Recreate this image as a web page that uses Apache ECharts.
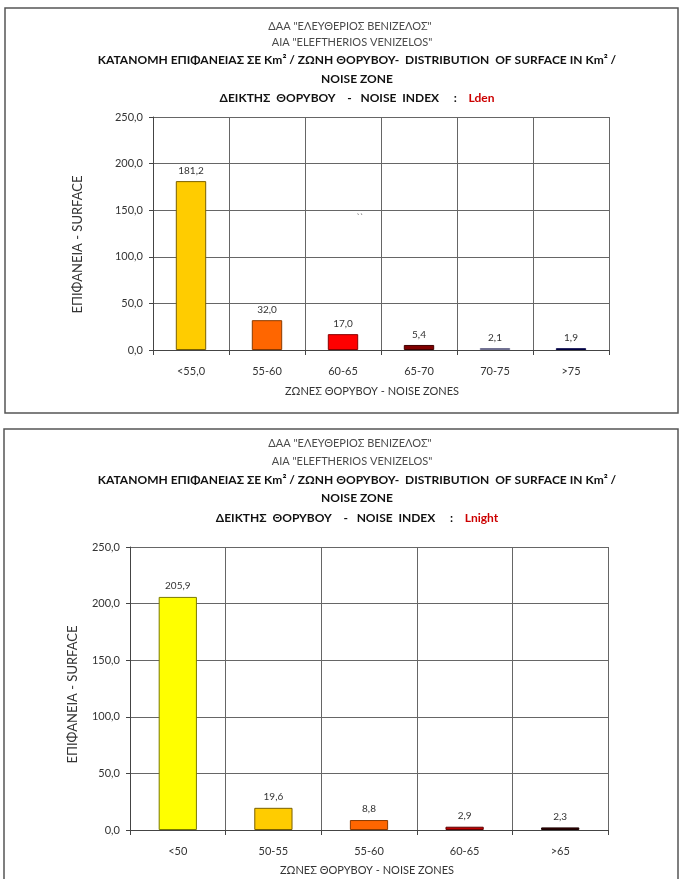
<!DOCTYPE html>
<html>
<head>
<meta charset="utf-8">
<script src="https://cdn.jsdelivr.net/npm/echarts@6/dist/echarts.min.js"></script>
<style>
  html, body { margin: 0; padding: 0; background: #fff; }
  #chart { width: 679px; height: 879px; }
</style>
</head>
<body>
<div id="chart"></div>
<script>
// Surface (km²) per noise zone around Athens International Airport
const ldenZones = ['<55,0', '55-60', '60-65', '65-70', '70-75', '>75'];
const ldenSurface = [181.2, 32.0, 17.0, 5.4, 2.1, 1.9];
const ldenColors = ['#FFCC00', '#FF6600', '#FF0000', '#800000', '#A49ED6', '#000080'];
const ldenEdges = ['#7A6000', '#8A3A00', '#8A0000', '#400000', '#707090', '#000040'];

const lnightZones = ['<50', '50-55', '55-60', '60-65', '>65'];
const lnightSurface = [205.9, 19.6, 8.8, 2.9, 2.3];
const lnightColors = ['#FFFF00', '#FFCC00', '#FF6600', '#C00000', '#330000'];
const lnightEdges = ['#7A7A00', '#7A6000', '#8A3A00', '#600000', '#1A0000'];

const yMin = 0, yMax = 250, yStep = 50;

const titleLine1 = 'ΔΑΑ "ΕΛΕΥΘΕΡΙΟΣ ΒΕΝΙΖΕΛΟΣ"';
const titleLine2 = 'AIA "ELEFTHERIOS VENIZELOS"';
const titleLine3 = 'ΚΑΤΑΝΟΜΗ ΕΠΙΦΑΝΕΙΑΣ ΣΕ Km² / ΖΩΝΗ ΘΟΡΥΒΟΥ-  DISTRIBUTION  OF SURFACE IN Km² /';
const titleLine4 = 'NOISE ZONE';
const indexLabel = 'ΔΕΙΚΤΗΣ  ΘΟΡΥΒΟΥ    -   NOISE  INDEX     :    ';
const indexNames = ['Lden', 'Lnight'];
const yAxisTitle = 'ΕΠΙΦΑΝΕΙΑ - SURFACE';
const xAxisTitle = 'ΖΩΝΕΣ ΘΟΡΥΒΟΥ - NOISE ZONES';

const FONT = 'Lato, "DejaVu Sans", sans-serif';
const comma = v => Number(v).toFixed(1).replace('.', ',');

function titleBlock(cx, ys, indexName) {
  const thin = { fontFamily: FONT, fontSize: 11, fill: '#4a4a4a' };
  const bold = { fontFamily: FONT, fontSize: 12, fontWeight: 'bold', fill: '#111' };
  const mk = (text, x, y, st) => ({
    type: 'text', x: x, y: y,
    style: Object.assign({ text: text, align: 'center', verticalAlign: 'middle' }, st)
  });
  return [
    mk(titleLine1, cx - 7, ys[0], thin),
    mk(titleLine2, cx - 5, ys[1], thin),
    mk(titleLine3, cx, ys[2], bold),
    mk(titleLine4, cx, ys[3], bold),
    {
      type: 'text', x: cx, y: ys[4],
      style: {
        text: '{b|' + indexLabel + '}{r|' + indexName + '}',
        align: 'center', verticalAlign: 'middle',
        rich: {
          b: { fontFamily: FONT, fontSize: 12, fontWeight: 'bold', fill: '#111', color: '#111' },
          r: { fontFamily: FONT, fontSize: 12, fontWeight: 'bold', fill: '#CC0000', color: '#CC0000' }
        }
      }
    }
  ];
}

function catAxis(gridIndex, data, nameGap, namePad) {
  return {
    type: 'category', gridIndex: gridIndex, data: data,
    boundaryGap: true,
    name: xAxisTitle, nameLocation: 'middle', nameGap: nameGap,
    nameTextStyle: { fontFamily: FONT, fontSize: 11, color: '#333', padding: namePad },
    axisLine: { show: true, lineStyle: { color: '#444', width: 1 } },
    axisTick: { show: true, length: 5, interval: 0, lineStyle: { color: '#444' } },
    axisLabel: { interval: 0, margin: 16, fontFamily: FONT, fontSize: 11, color: '#333' },
    splitLine: { show: true, interval: 0, lineStyle: { color: '#666', width: 1 } }
  };
}

function valAxis(gridIndex, nameGap, namePad) {
  return {
    type: 'value', gridIndex: gridIndex,
    min: yMin, max: yMax, interval: yStep,
    name: yAxisTitle, nameLocation: 'middle', nameGap: nameGap, nameRotate: 90,
    nameTextStyle: { fontFamily: FONT, fontSize: 13, color: '#333', padding: namePad },
    axisLine: { show: true, lineStyle: { color: '#444', width: 1 } },
    axisTick: { show: true, length: 4, lineStyle: { color: '#444' } },
    axisLabel: { margin: 10, fontFamily: FONT, fontSize: 11, color: '#333', formatter: comma },
    splitLine: { show: true, lineStyle: { color: '#666', width: 1 } }
  };
}

function barSeries(idx, values, colors, edges, dist) {
  return {
    type: 'bar', xAxisIndex: idx, yAxisIndex: idx,
    barWidth: '40%',
    data: values.map((v, i) => ({
      value: v,
      itemStyle: { color: colors[i], borderColor: edges[i], borderWidth: 1 }
    })),
    label: {
      show: true, position: 'top', distance: dist,
      fontFamily: FONT, fontSize: 10, color: '#333',
      formatter: p => comma(p.value)
    },
    emphasis: { disabled: true },
    animation: false
  };
}

const chart = echarts.init(document.getElementById('chart'), null, { renderer: 'canvas' });
chart.setOption({
  backgroundColor: '#fff',
  animation: false,
  grid: [
    { left: 153, top: 117, width: 456, height: 233, outerBoundsMode: 'none', containLabel: false },
    { left: 130, top: 547, width: 478, height: 283, outerBoundsMode: 'none', containLabel: false }
  ],
  xAxis: [catAxis(0, ldenZones, 36, [0, 18, 0, 0]), catAxis(1, lnightZones, 35, [0, 4, 0, 0])],
  yAxis: [valAxis(0, 69, [0, 22, 0, 0]), valAxis(1, 51, [0, 12, 0, 0])],
  series: [
    barSeries(0, ldenSurface, ldenColors, ldenEdges, 5),
    barSeries(1, lnightSurface, lnightColors, lnightEdges, 6)
  ],
  graphic: [
    // panel frames
    { type: 'rect', shape: { x: 5, y: 8, width: 673, height: 405 },
      style: { fill: 'none', stroke: '#555', lineWidth: 1.5 }, z: 0 },
    { type: 'rect', shape: { x: 4, y: 429, width: 674, height: 470 },
      style: { fill: 'none', stroke: '#555', lineWidth: 1.5 }, z: 0 },
    // stray mark inside the upper plot
    { type: 'text', x: 360, y: 218,
      style: { text: '``', fontFamily: FONT, fontSize: 9, fill: '#666', align: 'center', verticalAlign: 'middle' } }
  ].concat(
    titleBlock(357, [26, 42, 60, 79, 98], indexNames[0]),
    titleBlock(357, [443, 461, 480, 498, 518], indexNames[1])
  )
});
</script>
</body>
</html>
